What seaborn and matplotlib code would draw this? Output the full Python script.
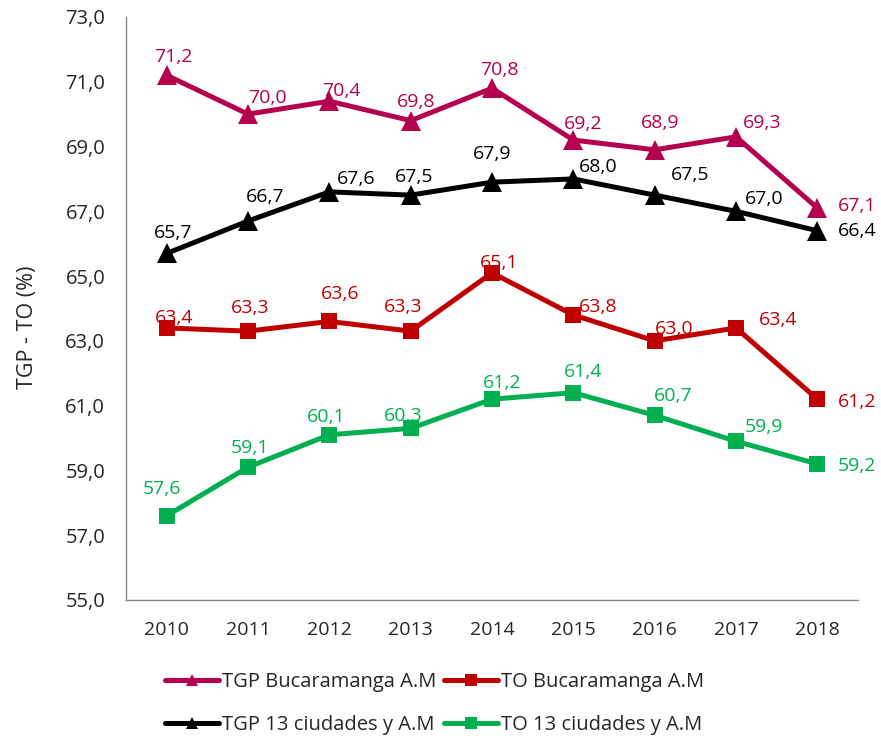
import matplotlib
matplotlib.use("Agg")
import matplotlib.pyplot as plt
from matplotlib.lines import Line2D
import seaborn as sns
import pandas as pd
import numpy as np

years = ["2010", "2011", "2012", "2013", "2014", "2015", "2016", "2017", "2018"]
tgp_bga = [71.2, 70.0, 70.4, 69.8, 70.8, 69.2, 68.9, 69.3, 67.1]
to_bga = [63.4, 63.3, 63.6, 63.3, 65.1, 63.8, 63.0, 63.4, 61.2]
tgp_13 = [65.7, 66.7, 67.6, 67.5, 67.9, 68.0, 67.5, 67.0, 66.4]
to_13 = [57.6, 59.1, 60.1, 60.3, 61.2, 61.4, 60.7, 59.9, 59.2]
series_names = ["TGP Bucaramanga A.M", "TO Bucaramanga A.M",
                "TGP 13 ciudades y A.M", "TO 13 ciudades y A.M"]

colors = {series_names[0]: "#B5004F", series_names[1]: "#C00000",
          series_names[2]: "#000000", series_names[3]: "#00B050"}
markers = {series_names[0]: "^", series_names[1]: "s",
           series_names[2]: "^", series_names[3]: "s"}
msizes = {series_names[0]: 14, series_names[1]: 11,
          series_names[2]: 14, series_names[3]: 11}

# label offsets in pixels (dx, dy with +dy up)
offsets = {
    series_names[0]: [(7, 18), (19, 16), (12, 10), (5, 19), (7, 18), (10, 16), (5, 27), (26, 14), (40, 2)],
    series_names[1]: [(7, 10), (2, 23), (11, 27), (-8, 24), (7, 10), (25, 8), (19, 12), (42, 8), (40, -3)],
    series_names[2]: [(6, 20), (17, 24), (27, 13), (3, 18), (0, 28), (25, 12), (35, 20), (28, 12), (40, 0)],
    series_names[3]: [(-5, 27), (2, 19), (-3, 18), (-8, 12), (10, 16), (10, 21), (18, 19), (28, 14), (40, -2)],
}

rows = []
for name, vals in zip(series_names, [tgp_bga, to_bga, tgp_13, to_13]):
    for i, (y, v) in enumerate(zip(years, vals)):
        rows.append({"idx": i, "year": y, "value": v, "serie": name})
df = pd.DataFrame(rows)

sns.set_style("white")
plt.rcParams["font.family"] = ["Open Sans", "DejaVu Sans"]

fig = plt.figure(figsize=(8.81, 7.38), dpi=100)
ax = fig.add_axes([0.143, 0.187, 0.831, 0.790])

for name in series_names:
    sub = df[df.serie == name]
    sns.lineplot(data=sub, x="idx", y="value", color=colors[name],
                 marker=markers[name], linewidth=3.6, markersize=msizes[name],
                 markeredgewidth=0, ax=ax, legend=False)

for name in series_names:
    sub = df[df.serie == name]
    for (i, v), (dx, dy) in zip(zip(sub.idx, sub.value), offsets[name]):
        ax.annotate(f"{v:.1f}".replace(".", ","), (i, v), xytext=(dx, dy),
                    textcoords="offset pixels", ha="center", va="center",
                    fontsize=14, color=colors[name])

ax.set_xlim(-0.5, 8.5)
ax.set_ylim(55, 73)
yt = np.arange(55, 73.1, 2)
ax.set_yticks(yt)
ax.set_yticklabels([f"{t:.1f}".replace(".", ",") for t in yt], fontsize=14.5)
ax.set_xticks(range(len(years)))
ax.set_xticklabels(years, fontsize=14)
ax.set_xticks(np.arange(-0.5, 8.6, 1), minor=True)
ax.tick_params(axis="x", which="major", length=0, pad=15)
ax.tick_params(axis="x", which="minor", length=6, color="#888888", width=1)
ax.tick_params(axis="y", length=6, color="#888888", width=1, pad=9)
ax.set_xlabel("")
ax.set_ylabel("TGP - TO (%)", fontsize=15.5)
ax.yaxis.set_label_coords(-0.12, 0.468)

for s in ["top", "right"]:
    ax.spines[s].set_visible(False)
for s in ["left", "bottom"]:
    ax.spines[s].set_color("#888888")
    ax.spines[s].set_linewidth(1)

order = [0, 2, 1, 3]
handles = [Line2D([0], [0], color=colors[series_names[k]], marker=markers[series_names[k]],
                  lw=3.6, markersize=9, markeredgewidth=0) for k in order]
labels = [series_names[k] for k in order]
fig.legend(handles, labels, loc="upper left", bbox_to_anchor=(165 / 881, 1 - 672 / 738),
           ncol=2, frameon=False, fontsize=14.5, handlelength=2.7,
           handletextpad=0.15, columnspacing=0.35, labelspacing=1.15,
           borderpad=0, borderaxespad=0)

fig.savefig("out.png", dpi=100)
